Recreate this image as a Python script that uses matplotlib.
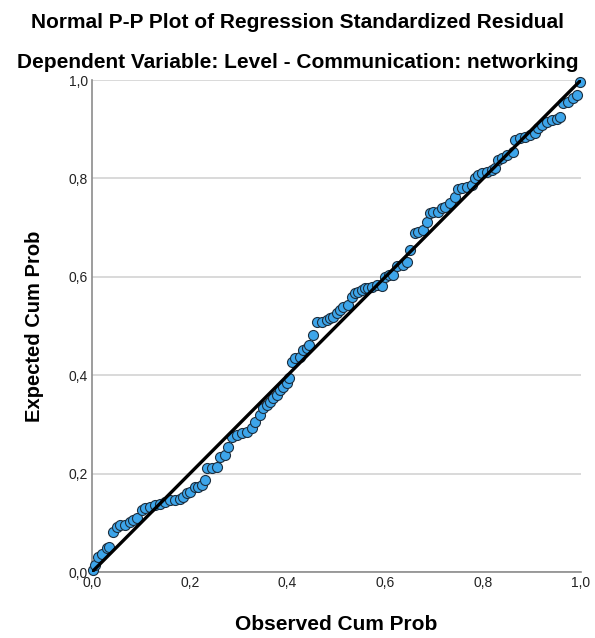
import matplotlib
matplotlib.use("Agg")
import matplotlib.pyplot as plt
from matplotlib.ticker import FuncFormatter

observed = [0.002, 0.006, 0.012, 0.020, 0.031, 0.035, 0.043, 0.051, 0.057, 0.067,
            0.078, 0.084, 0.092, 0.102, 0.108, 0.119, 0.129, 0.139, 0.149, 0.160,
            0.170, 0.180, 0.186, 0.194, 0.200, 0.211, 0.217, 0.225, 0.231, 0.235,
            0.245, 0.256, 0.262, 0.272, 0.278, 0.286, 0.297, 0.307, 0.317, 0.327,
            0.333, 0.344, 0.350, 0.358, 0.364, 0.370, 0.378, 0.384, 0.391, 0.399,
            0.403, 0.409, 0.415, 0.425, 0.431, 0.440, 0.444, 0.452, 0.460, 0.470,
            0.481, 0.487, 0.493, 0.501, 0.507, 0.513, 0.524, 0.532, 0.538, 0.544,
            0.552, 0.558, 0.564, 0.573, 0.583, 0.593, 0.599, 0.607, 0.616, 0.624,
            0.636, 0.644, 0.650, 0.661, 0.667, 0.677, 0.685, 0.691, 0.697, 0.708,
            0.716, 0.722, 0.732, 0.742, 0.748, 0.757, 0.767, 0.777, 0.783, 0.789,
            0.798, 0.808, 0.818, 0.824, 0.830, 0.838, 0.849, 0.861, 0.865, 0.875,
            0.885, 0.896, 0.906, 0.912, 0.920, 0.930, 0.941, 0.951, 0.957, 0.963,
            0.973, 0.984, 0.992, 0.998]
expected = [0.004, 0.014, 0.030, 0.037, 0.049, 0.051, 0.081, 0.091, 0.096, 0.096,
            0.102, 0.106, 0.110, 0.126, 0.130, 0.132, 0.136, 0.138, 0.142, 0.146,
            0.146, 0.148, 0.152, 0.161, 0.163, 0.173, 0.173, 0.177, 0.187, 0.211,
            0.211, 0.213, 0.234, 0.238, 0.254, 0.274, 0.278, 0.283, 0.285, 0.293,
            0.305, 0.319, 0.333, 0.339, 0.346, 0.354, 0.360, 0.370, 0.376, 0.384,
            0.394, 0.427, 0.435, 0.437, 0.451, 0.455, 0.461, 0.482, 0.508, 0.508,
            0.512, 0.516, 0.518, 0.526, 0.533, 0.539, 0.543, 0.559, 0.567, 0.569,
            0.573, 0.577, 0.577, 0.579, 0.583, 0.581, 0.600, 0.604, 0.604, 0.622,
            0.624, 0.630, 0.654, 0.689, 0.691, 0.695, 0.711, 0.730, 0.732, 0.732,
            0.740, 0.742, 0.750, 0.762, 0.778, 0.780, 0.783, 0.787, 0.801, 0.807,
            0.811, 0.813, 0.817, 0.821, 0.837, 0.841, 0.848, 0.854, 0.878, 0.882,
            0.884, 0.888, 0.892, 0.902, 0.909, 0.915, 0.919, 0.921, 0.925, 0.953,
            0.955, 0.963, 0.970, 0.996]
ticks = [0.0, 0.2, 0.4, 0.6, 0.8, 1.0]

plt.rcParams['font.family'] = ['Liberation Sans', 'DejaVu Sans']

fig = plt.figure(figsize=(5.95, 6.38), dpi=100)
ax = fig.add_axes([0.1546, 0.1034, 0.8219, 0.7712])

ax.set_xlim(0, 1)
ax.set_ylim(0, 1)
ax.set_xticks(ticks)
ax.set_yticks(ticks)
fmt = FuncFormatter(lambda v, p: f"{v:.1f}".replace('.', ','))
ax.xaxis.set_major_formatter(fmt)
ax.yaxis.set_major_formatter(fmt)
ax.tick_params(length=0, labelsize=10, colors='#222222', pad=3)
ax.tick_params(axis='x', pad=3)

for s in ['top', 'right']:
    ax.spines[s].set_visible(False)
for s in ['left', 'bottom']:
    ax.spines[s].set_color('#8c8c8c')
    ax.spines[s].set_linewidth(1.2)

ax.yaxis.grid(True, color='#cfcfcf', linewidth=1.1)
ax.set_axisbelow(True)

ax.scatter(observed, expected, s=52, facecolor='#3da5ea', edgecolor='#1c2e3e',
           linewidths=0.8, zorder=3, clip_on=False)
ax.plot([0, 1], [0, 1], color='black', linewidth=2.4, zorder=4,
        solid_capstyle='butt')

fig.text(0.5, 1 - 22 / 638, "Normal P-P Plot of Regression Standardized Residual",
         ha='center', va='center', fontsize=15, fontweight='bold')
fig.text(0.5, 1 - 62 / 638, "Dependent Variable: Level - Communication: networking",
         ha='center', va='center', fontsize=15, fontweight='bold')
fig.text(336 / 595, 1 - 625 / 638, "Observed Cum Prob",
         ha='center', va='center', fontsize=15, fontweight='bold')
fig.text(35 / 595, 1 - 326 / 638, "Expected Cum Prob", rotation=90,
         ha='center', va='center', fontsize=14.5, fontweight='bold')

fig.savefig("out.png", dpi=100)
